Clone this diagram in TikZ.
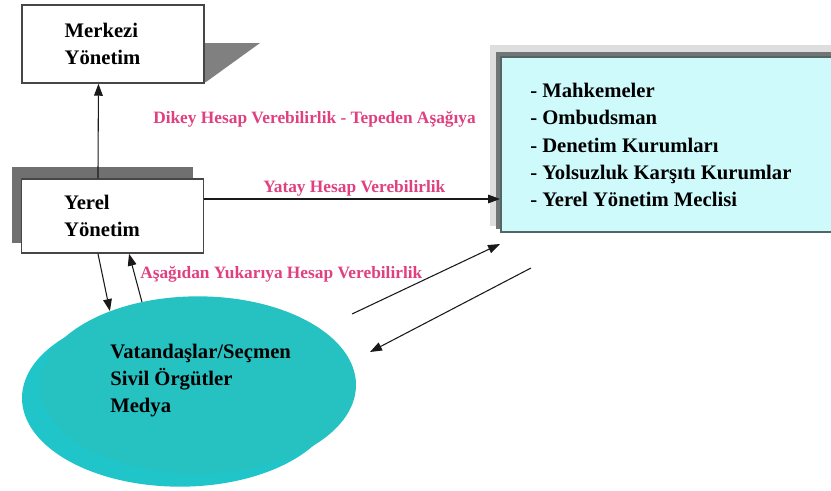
\documentclass[tikz,border=0pt]{standalone}
\usepackage{fontspec}
\setmainfont{Liberation Serif}
\usetikzlibrary{arrows.meta, positioning, shapes.geometric}

\definecolor{labelpink}{RGB}{224,64,128}
\definecolor{boxcyan}{RGB}{206,250,252}
\definecolor{citizenteal}{RGB}{38,194,194}
\definecolor{citizenrim}{RGB}{32,197,202}

\tikzset{
  unitbox/.style={draw={rgb,255:red,70;green,70;blue,70}, line width=1.1, fill=white, minimum width=136.5pt, align=left, text width=72.5pt, inner xsep=32pt, inner ysep=0pt, font=\fontsize{15.5}{20.25}\selectfont\bfseries},
  pinklabel/.style={text=labelpink, inner sep=0pt, font=\fontsize{13}{16}\selectfont\bfseries},
  citizen/.style={ellipse, minimum width=237pt, minimum height=133pt, inner sep=0pt, align=left, font=\fontsize{15.5}{20.25}\selectfont\bfseries},
  arr/.style={draw={rgb,255:red,25;green,25;blue,25}, line width=0.8, -{Triangle[length=9pt,width=6.5pt]}},
}

\begin{document}
\begin{tikzpicture}[x=0.75pt,y=0.75pt,yscale=-1,xscale=1]
\path[use as bounding box] (0,0) rectangle (831,490);

%Shape: shadow of Merkezi
\fill [color={rgb, 255:red, 128; green, 128; blue, 128 }] (204,43) -- (260,43) -- (206,82) -- (204,82) -- cycle ;
%Shape: shadow of Yerel
\fill [color={rgb, 255:red, 112; green, 112; blue, 112 }] (12,167) rectangle (193,243) ;

% Boxes
\draw (113,44) node [unitbox, minimum height=58.5pt] (merkezi) {Merkezi\\Yönetim};
\draw (112.5,216) node [unitbox, minimum height=55.5pt] (yerel) {Yerel\\Yönetim};

%Shape: Kurumlar box with its shadows
\fill [color={rgb, 255:red, 222; green, 222; blue, 222 }] (490,45) rectangle (845,226) ;
\fill [color={rgb, 255:red, 112; green, 118; blue, 118 }] (496,52) rectangle (845,229) ;
\draw (673,144.5) node [draw={rgb,255:red,85;green,100;blue,100}, line width=1.5, fill=boxcyan, minimum width=258pt, minimum height=131.25pt] (kurumlar) {};
\draw (530,145) node [anchor=west, inner sep=0pt, align=left, font=\fontsize{15.5}{20.5}\selectfont\bfseries] (kurumliste) {- Mahkemeler\\- Ombudsman\\- Denetim Kurumları\\- Yolsuzluk Karşıtı Kurumlar\\- Yerel Yönetim Meclisi};

%Shape: Ellipse
\draw (180,398) node [citizen, fill=citizenrim] (vatandasgolge) {};
\draw (198,385) node [citizen, fill=citizenteal] (vatandas) {};
% Text Node
\draw (110,381) node [anchor=west, inner sep=0pt, align=left, font=\fontsize{15.5}{20.25}\selectfont\bfseries] (vatandasliste) {Vatandaşlar/Seçmen\\Sivil Örgütler\\Medya};

% Connectors
\draw [arr] ([xshift=-10.9pt]yerel.north) -- ([xshift=-10.9pt]merkezi.south) ;
\draw [arr] ([yshift=-12.75pt]yerel.east) coordinate (yatay) -- (yatay -| kurumlar.west) ;
\draw [arr] ([xshift=-10.9pt]yerel.south) -- (vatandas.140) ;
\draw [arr] (vatandas.124) -- ([xshift=12.4pt]yerel.south) ;
\coordinate (cikis) at (352,314) ;
\coordinate (varis) at (500,244) ;
\draw [arr] (cikis) -- (varis) ;
\coordinate (donus) at (531,268) ;
\coordinate (geri) at (370,352) ;
\draw [arr] (donus) -- (geri) ;

% Text Node
\draw (153,123) node [anchor=base west][pinklabel] (dikey) {Dikey Hesap Verebilirlik - Tepeden Aşağıya};
% Text Node
\draw (263,192) node [anchor=base west][pinklabel] (yataylbl) {Yatay Hesap Verebilirlik};
% Text Node
\draw (140,278) node [anchor=base west][pinklabel] (asagidan) {Aşağıdan Yukarıya Hesap Verebilirlik};

\end{tikzpicture}
\end{document}
